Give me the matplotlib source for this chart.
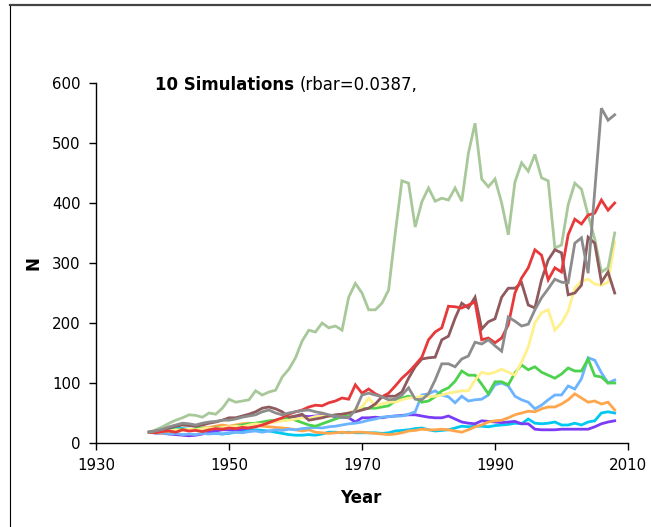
import numpy as np
import matplotlib
matplotlib.use("Agg")
import matplotlib.pyplot as plt
from matplotlib.lines import Line2D

# Simulated series, one value per year from 1938 to 2008
years = np.arange(1938, 2009)

sim_sage = [18, 22, 27, 33, 38, 42, 47, 46, 43, 50,
            48, 58, 73, 68, 70, 72, 87, 80, 85, 88,
            110, 123, 142, 170, 188, 185, 200, 192, 195, 188,
            243, 266, 250, 222, 222, 233, 255, 350, 437, 433,
            360, 402, 425, 403, 408, 405, 425, 403, 483, 533,
            440, 427, 440, 400, 347, 435, 467, 453, 481, 442,
            437, 325, 330, 397, 433, 423, 380, 340, 285, 292,
            350]
sim_red = [18, 17, 19, 20, 18, 22, 20, 21, 19, 22,
           24, 23, 25, 24, 26, 25, 27, 30, 34, 38,
           42, 48, 52, 55, 60, 63, 62, 67, 70, 75,
           73, 97, 83, 90, 82, 77, 83, 95, 108, 118,
           130, 143, 172, 185, 192, 228, 227, 225, 230, 235,
           172, 175, 167, 175, 197, 250, 275, 292, 322, 313,
           272, 292, 285, 347, 373, 365, 380, 383, 405, 388,
           400]
sim_brown = [18, 20, 22, 25, 28, 30, 29, 28, 30, 33,
             35, 38, 42, 42, 45, 48, 52, 58, 60, 57,
             52, 43, 45, 48, 38, 40, 42, 45, 47, 48,
             50, 52, 55, 58, 65, 77, 78, 78, 85, 108,
             127, 140, 142, 143, 172, 178, 208, 233, 225, 243,
             190, 202, 207, 243, 258, 258, 267, 230, 225, 272,
             305, 322, 317, 247, 250, 263, 343, 333, 268, 285,
             250]
sim_gray = [18, 20, 23, 27, 30, 33, 32, 30, 33, 35,
            36, 38, 38, 40, 43, 45, 47, 52, 55, 50,
            47, 50, 52, 54, 55, 52, 50, 47, 45, 43,
            42, 55, 80, 83, 80, 77, 72, 73, 80, 92,
            73, 72, 82, 105, 132, 132, 127, 140, 145, 168,
            165, 172, 162, 153, 210, 203, 195, 198, 222, 242,
            257, 273, 268, 267, 333, 342, 283, 420, 558, 538,
            547]
sim_yellow = [18, 17, 19, 20, 22, 21, 23, 22, 24, 25,
              24, 26, 27, 28, 27, 30, 32, 31, 33, 35,
              37, 38, 40, 42, 41, 44, 45, 44, 46, 48,
              50, 55, 60, 75, 62, 65, 68, 68, 72, 75,
              76, 78, 77, 78, 80, 83, 85, 87, 87, 105,
              118, 115, 118, 123, 118, 113, 135, 160, 200, 217,
              222, 188, 200, 220, 258, 270, 273, 265, 263, 268,
              335]
sim_green = [18, 19, 20, 21, 22, 23, 22, 24, 25, 24,
             25, 26, 25, 28, 30, 32, 33, 35, 37, 38,
             40, 42, 38, 34, 30, 28, 32, 36, 40, 44,
             48, 55, 57, 58, 58, 60, 62, 70, 75, 78,
             75, 68, 70, 77, 87, 92, 103, 120, 113, 113,
             98, 82, 102, 102, 97, 117, 130, 122, 127, 118,
             113, 108, 115, 125, 120, 120, 140, 112, 110, 100,
             100]
sim_lightblue = [18, 16, 17, 15, 16, 14, 15, 14, 16, 15,
                 16, 15, 17, 18, 17, 19, 20, 18, 20, 22,
                 21, 23, 22, 24, 25, 26, 25, 27, 28, 30,
                 32, 33, 35, 38, 40, 43, 44, 45, 45, 48,
                 52, 80, 82, 87, 80, 77, 67, 78, 70, 72,
                 73, 80, 97, 100, 95, 78, 72, 68, 57, 63,
                 72, 80, 80, 95, 90, 107, 142, 138, 117, 100,
                 105]
sim_orange = [18, 17, 16, 18, 20, 22, 21, 23, 25, 26,
              28, 30, 28, 30, 32, 33, 30, 28, 27, 26,
              25, 24, 22, 20, 22, 18, 17, 16, 17, 18,
              17, 18, 18, 17, 16, 15, 14, 15, 17, 20,
              21, 23, 22, 22, 23, 22, 20, 18, 22, 27,
              30, 35, 37, 38, 42, 47, 50, 53, 52, 57,
              60, 60, 65, 72, 82, 75, 68, 70, 65, 68,
              55]
sim_purple = [18, 17, 16, 15, 14, 13, 12, 13, 15, 18,
              20, 22, 22, 21, 23, 25, 28, 33, 35, 37,
              38, 40, 42, 45, 44, 45, 46, 45, 44, 43,
              42, 35, 42, 42, 43, 42, 44, 45, 46, 47,
              47, 45, 43, 42, 42, 45, 40, 35, 33, 32,
              37, 36, 35, 34, 35, 36, 32, 32, 23, 22,
              22, 22, 23, 23, 23, 23, 23, 27, 32, 35,
              37]
sim_cyan = [18, 20, 22, 24, 25, 24, 23, 22, 20, 18,
            16, 15, 16, 18, 20, 21, 22, 21, 20, 18,
            16, 14, 13, 13, 14, 13, 15, 18, 18, 17,
            18, 17, 17, 17, 17, 16, 17, 20, 21, 22,
            24, 25, 22, 20, 21, 22, 25, 28, 27, 28,
            28, 27, 29, 30, 31, 33, 32, 40, 33, 32,
            33, 35, 30, 30, 33, 30, 35, 37, 50, 52,
            50]

series = [
    (sim_cyan, "#00C8F0"),
    (sim_purple, "#7A3CF5"),
    (sim_orange, "#FFA64D"),
    (sim_lightblue, "#6CB4FF"),
    (sim_green, "#4CD24C"),
    (sim_yellow, "#FFF08C"),
    (sim_sage, "#A8C89A"),
    (sim_brown, "#8E5A5E"),
    (sim_red, "#E8393A"),
    (sim_gray, "#8C8C8C"),
]

x_ticks = [1930, 1950, 1970, 1990, 2010]
y_ticks = [0, 100, 200, 300, 400, 500, 600]

W, H = 651, 527
fig = plt.figure(figsize=(W / 100, H / 100), dpi=100)
ax = fig.add_axes([96 / W, 1 - 443 / H, 532 / W, 360 / H])

for values, color in series:
    ax.plot(years, values, color=color, lw=2.0, solid_joinstyle="miter")

ax.set_xlim(1930, 2010)
ax.set_ylim(0, 600)
ax.set_xticks(x_ticks)
ax.set_yticks(y_ticks)
ax.tick_params(direction="out", length=5, width=1, labelsize=10.8, color="black")
ax.tick_params(axis="x", pad=6)
ax.tick_params(axis="y", pad=6)
for side in ("top", "right"):
    ax.spines[side].set_visible(False)
for side in ("left", "bottom"):
    ax.spines[side].set_linewidth(1)
    ax.spines[side].set_color("black")

fig.text(361 / W, 1 - 498 / H, "Year", fontsize=12, fontweight="bold",
         ha="center", va="center")
fig.text(34 / W, 1 - 263 / H, "N", fontsize=12, fontweight="bold",
         rotation=90, ha="center", va="center")

# Title in two parts: bold count, then plain statistic
t1 = fig.text(155 / W, 1 - 85 / H, "10 Simulations", fontsize=12,
              fontweight="bold", ha="left", va="center")
fig.canvas.draw()
bb = t1.get_window_extent()
fig.text((bb.x1 + 6) / W, 1 - 85 / H, "(rbar=0.0387,", fontsize=12,
         ha="left", va="center")

# Outer frame edges
fig.add_artist(Line2D([10 / W, 10 / W], [0, 1 - 5 / H], color="black", lw=0.8))
fig.add_artist(Line2D([10 / W, 1], [1 - 5 / H, 1 - 5 / H], color="#444444", lw=1.6))

fig.savefig("out.png", dpi=100)
